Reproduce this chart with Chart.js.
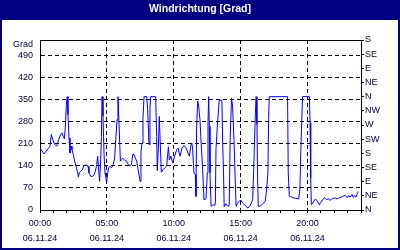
<!DOCTYPE html>
<html>
<head>
<meta charset="utf-8">
<script src="https://cdn.jsdelivr.net/npm/chart.js@4.4.0/dist/chart.umd.min.js"></script>
<style>
  html, body { margin: 0; padding: 0; background: #fff; }
  #wrap { width: 400px; height: 250px; position: relative; }
</style>
</head>
<body>
<div id="wrap"><canvas id="windChart"></canvas></div>
<script>
// time of day in hours (06.11.24) and wind direction in degrees
const hours = [
  0.0, 0.3, 0.47, 0.65, 0.75, 0.85, 0.95, 1.1, 1.25, 1.4, 1.55, 1.64, 1.74, 1.82, 1.89, 1.97,
  2.04, 2.09, 2.17, 2.24, 2.32, 2.39, 2.49, 2.59, 2.69, 2.79, 2.87, 2.94, 3.04, 3.17, 3.29, 3.49,
  3.59, 3.66, 3.79, 3.94, 4.04, 4.14, 4.24, 4.31, 4.39, 4.46, 4.54, 4.59, 4.64, 4.71, 4.79, 4.86,
  4.91, 4.98, 5.06, 5.13, 5.23, 5.33, 5.46, 5.58, 5.68, 5.76, 5.83, 5.91, 6.01, 6.08, 6.18, 6.33,
  6.48, 6.6, 6.73, 6.83, 6.93, 7.03, 7.13, 7.23, 7.33, 7.43, 7.48, 7.55, 7.63, 7.7, 7.78, 7.98,
  8.05, 8.15, 8.22, 8.27, 8.65, 8.72, 8.77, 8.85, 8.92, 9.0, 9.07, 9.2, 9.35, 9.47, 9.6, 9.67,
  9.79, 9.92, 10.07, 10.22, 10.32, 10.47, 10.62, 10.77, 10.92, 11.07, 11.17, 11.27, 11.34, 11.41, 11.51, 11.61,
  11.66, 11.71, 11.79, 11.86, 11.96, 12.06, 12.16, 12.26, 12.41, 12.51, 12.56, 12.61, 12.66, 12.71, 12.79, 12.96,
  13.06, 13.11, 13.16, 13.28, 13.4, 13.6, 13.66, 13.72, 13.77, 13.9, 14.0, 14.1, 14.15, 14.22, 14.32, 14.4,
  14.5, 14.58, 14.66, 14.77, 14.9, 15.02, 15.15, 15.27, 15.4, 15.55, 15.68, 15.8, 15.9, 15.97, 16.02, 16.1,
  16.16, 16.22, 16.27, 16.32, 16.45, 16.6, 16.72, 16.84, 16.94, 17.04, 17.09, 17.14, 18.51, 18.56, 18.64, 18.9,
  19.13, 19.34, 19.43, 19.5, 19.57, 19.63, 20.14, 20.19, 20.24, 20.29, 20.39, 20.59, 20.74, 20.89, 20.99, 21.13,
  21.28, 21.43, 21.58, 21.68, 21.81, 21.93, 22.08, 22.23, 22.38, 22.53, 22.68, 22.83, 22.98, 23.08, 23.18, 23.33,
  23.43, 23.53, 23.63, 23.73, 23.8
];
const windDir = [
  197, 178, 187, 197, 203, 240, 224, 208, 203, 224, 240, 245, 234, 226, 261, 335,
  360, 303, 229, 181, 203, 192, 176, 155, 139, 123, 105, 118, 123, 128, 142, 142,
  139, 118, 107, 107, 112, 123, 144, 171, 123, 91, 160, 234, 360, 298, 176, 118,
  107, 86, 118, 134, 139, 134, 141, 165, 234, 287, 360, 272, 155, 160, 165, 158,
  155, 144, 141, 144, 176, 176, 165, 155, 128, 107, 91, 187, 213, 293, 360, 360,
  319, 208, 319, 360, 360, 234, 125, 200, 297, 200, 120, 128, 135, 140, 201, 159,
  171, 150, 171, 192, 197, 171, 197, 205, 197, 181, 171, 203, 213, 197, 118, 112,
  43, 266, 346, 330, 287, 203, 128, 33, 35, 118, 277, 360, 266, 118, 12, 17,
  14, 22, 195, 280, 349, 349, 210, 118, 10, 20, 14, 12, 18, 230, 355, 330,
  224, 120, 12, 22, 28, 31, 22, 17, 12, 6, 12, 22, 33, 118, 192, 303,
  360, 272, 97, 12, 12, 17, 22, 28, 65, 118, 287, 360, 360, 118, 44, 39,
  37, 35, 65, 192, 282, 360, 360, 277, 102, 17, 22, 35, 28, 17, 24, 33,
  38, 33, 36, 30, 35, 37, 38, 35, 39, 41, 44, 46, 39, 46, 41, 49,
  40, 46, 41, 52, 59
];

const gradTicks = [0, 70, 140, 210, 280, 350, 420, 490];
const compassLabels = ['N', 'NE', 'E', 'SE', 'S', 'SW', 'W', 'NW', 'N', 'NE', 'E', 'SE', 'S'];
const labelHours = [0, 5, 10, 15, 20];
const timeLabels = ['00:00', '05:00', '10:00', '15:00', '20:00'];
const dateLabel = '06.11.24';

const NAVY = '#000080';
const TEXT = '#000040';
const tickFont = { family: 'Liberation Sans', size: 9 };

const framePlugin = {
  id: 'frame',
  beforeDraw(chart) {
    const ctx = chart.ctx;
    ctx.save();
    ctx.fillStyle = '#ffffff';
    ctx.fillRect(0, 0, chart.width, chart.height);
    ctx.fillStyle = NAVY;
    ctx.fillRect(0, 0, chart.width, 20);
    ctx.restore();
  },
  afterDraw(chart) {
    const ctx = chart.ctx;
    const a = chart.chartArea;
    ctx.save();
    // top edge of the plot
    ctx.strokeStyle = '#000';
    ctx.lineWidth = 1;
    ctx.beginPath();
    ctx.moveTo(a.left, Math.round(a.top) + 0.5);
    ctx.lineTo(a.right, Math.round(a.top) + 0.5);
    ctx.stroke();
    // unit label above the left axis
    ctx.fillStyle = TEXT;
    ctx.font = tickFont.size + 'px "' + tickFont.family + '"';
    ctx.textAlign = 'right';
    ctx.textBaseline = 'middle';
    ctx.fillText('Grad', a.left - 7, a.top + 5);
    // outer border
    ctx.strokeStyle = NAVY;
    ctx.lineWidth = 2;
    ctx.strokeRect(1, 1, chart.width - 2, chart.height - 2);
    ctx.restore();
  }
};

new Chart(document.getElementById('windChart'), {
  type: 'line',
  data: {
    datasets: [{
      data: hours.map((h, i) => ({ x: h, y: windDir[i] })),
      borderColor: '#0000ff',
      borderWidth: 1,
      pointRadius: 0,
      tension: 0,
      fill: false
    }]
  },
  options: {
    responsive: true,
    maintainAspectRatio: false,
    animation: false,
    layout: { padding: 0 },
    plugins: {
      legend: { display: false },
      tooltip: { enabled: false },
      title: {
        display: true,
        text: 'Windrichtung [Grad]',
        color: '#ffffff',
        font: { family: 'Liberation Sans', size: 10.5, weight: 'bold', lineHeight: 1.2 },
        padding: { top: 3, bottom: 24.4 }
      }
    },
    scales: {
      x: {
        type: 'linear',
        min: 0,
        max: 24,
        afterFit: (s) => { s.height = 40; },
        ticks: {
          stepSize: 1,
          autoSkip: false,
          maxRotation: 0,
          padding: 3,
          color: TEXT,
          font: { family: tickFont.family, size: tickFont.size, lineHeight: 1.65 },
          callback: (v) => {
            const k = labelHours.indexOf(v);
            return k >= 0 ? [timeLabels[k], dateLabel] : '';
          }
        },
        grid: {
          color: (c) => (c.tick && labelHours.includes(c.tick.value) && c.tick.value > 0) ? '#000' : 'rgba(0,0,0,0)',
          tickColor: '#000',
          tickLength: 3
        },
        border: { color: '#000', width: 1, dash: [4, 3] }
      },
      y: {
        position: 'left',
        min: 0,
        max: 540,
        afterFit: (s) => { s.width = 40; },
        afterBuildTicks: (s) => { s.ticks = gradTicks.map(v => ({ value: v })); },
        ticks: {
          stepSize: 70,
          includeBounds: false,
          padding: 7,
          color: TEXT,
          font: tickFont
        },
        grid: {
          color: (c) => (c.tick && c.tick.value > 0) ? '#000' : 'rgba(0,0,0,0)',
          drawTicks: false
        },
        border: { color: '#000', width: 1, dash: [4, 3] }
      },
      y2: {
        position: 'right',
        min: 0,
        max: 540,
        afterFit: (s) => { s.width = 39; },
        ticks: {
          stepSize: 45,
          padding: 1,
          color: TEXT,
          font: tickFont,
          callback: (v) => compassLabels[Math.round(v / 45)]
        },
        grid: {
          drawOnChartArea: false,
          tickColor: '#000',
          tickLength: 3
        },
        border: { color: '#000', width: 1 }
      }
    }
  },
  plugins: [framePlugin]
});
</script>
</body>
</html>
